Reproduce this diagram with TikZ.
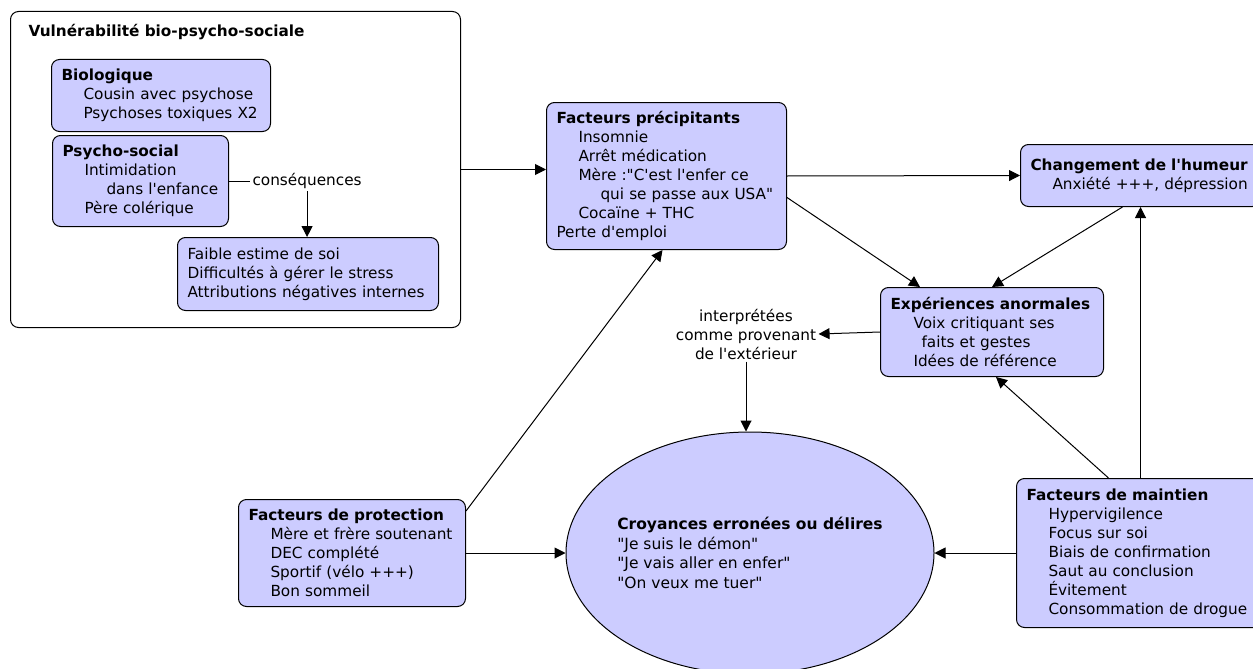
\documentclass[tikz,border=0pt]{standalone}
\usepackage{fontspec}
\newfontfamily\verd{DejaVu Sans}
\usetikzlibrary{arrows.meta,shapes.geometric}
\definecolor{lavande}{RGB}{204,204,255}
\newcommand{\retrait}{\hspace*{22pt}}

\begin{document}
\begin{tikzpicture}[x=1pt,y=-1pt,line width=1pt,>={Triangle[length=11pt,width=11pt]},
  bloc/.style={draw,fill=lavande,rounded corners=8pt,anchor=north west,align=left,
    inner xsep=10pt,inner ysep=0pt,font=\verd\fontsize{15.3}{19}\selectfont},
  etiq/.style={font=\verd\fontsize{15.3}{19}\selectfont,inner sep=2pt}]
\useasboundingbox (0,0) rectangle (1253,669);
% ---------- vulnerabilite ----------
\node[draw,fill=white,rounded corners=8pt,anchor=north west,minimum width=450pt,minimum height=316pt] (vuln) at (10,11) {};
\node[etiq,anchor=west,inner sep=0pt] (vulntitre) at (28,32) {\textbf{Vulnérabilité bio-psycho-sociale}};
\node[bloc,text width=199pt,minimum height=72pt] (bio) at (51,59)
  {\textbf{Biologique}\\ \retrait Cousin avec psychose\\ \retrait Psychoses toxiques X2};
\node[bloc,text width=156pt,minimum height=91pt] (psy) at (52,135)
  {\textbf{Psycho-social}\\ \retrait Intimidation\\ \retrait\retrait dans l'enfance\\ \retrait Père colérique};
\node[etiq,anchor=west] (conseq) at (250,181) {conséquences};
\node[bloc,text width=241pt,minimum height=73pt] (faible) at (177,237)
  {Faible estime de soi\\ Difficultés à gérer le stress\\ Attributions négatives internes};
\draw (psy.east) -- (conseq.west);
\draw[->] (conseq.south) -- (conseq.south |- faible.north);
% ---------- facteurs precipitants ----------
\node[bloc,text width=220pt,minimum height=147pt] (fp) at (546,102)
  {\textbf{Facteurs précipitants}\\ \retrait Insomnie\\ \retrait Arrêt médication\\
   \retrait Mère :"C'est l'enfer ce\\ \retrait\retrait qui se passe aux USA"\\
   \retrait Cocaïne + THC\\ Perte d'emploi};
\coordinate (fpin) at ([yshift=6.5pt]fp.west);
\draw[->] (fpin -| vuln.east) -- (fpin);
% ---------- humeur et experiences ----------
\node[bloc,text width=220pt,minimum height=62pt] (humeur) at (1020,144)
  {\textbf{Changement de l'humeur}\\ \retrait Anxiété +++, dépression};
\node[bloc,text width=203pt,minimum height=89pt] (exp) at (880,287)
  {\textbf{Expériences anormales}\\ \hspace*{23pt}Voix critiquant ses\\
   \hspace*{31pt}faits et gestes\\ \hspace*{23pt}Idées de référence};
\node[etiq,align=center] (interp) at (746,334) {interprétées\\ comme provenant\\ de l'extérieur};
\draw[->] (fp.east) -- (humeur.west);
\draw[->] ([yshift=-21.5pt]fp.east) -- ([xshift=-72pt]exp.north);
\draw[->] ([xshift=-18pt]humeur.south) -- (exp.north);
\draw[->] (exp.west) -- (interp.east);
% ---------- croyances ----------
\node[ellipse,draw,fill=lavande,inner sep=0pt,minimum width=368pt,minimum height=242pt] (croy) at (750,553) {};
\node[align=left,font=\verd\fontsize{15.5}{19.5}\selectfont] (croytexte) at (croy.center)
  {\textbf{Croyances erronées ou délires}\\ "Je suis le démon"\\ "Je vais aller en enfer"\\ "On veux me tuer"};
\draw[->] (interp.south) -- (interp.south |- croy.north);
% ---------- protection et maintien ----------
\node[bloc,text width=207pt,minimum height=107pt] (prot) at (238,499)
  {\textbf{Facteurs de protection}\\ \retrait Mère et frère soutenant\\ \retrait DEC complété\\
   \retrait Sportif (vélo +++)\\ \retrait Bon sommeil};
\node[bloc,text width=228pt,minimum height=149pt] (maint) at (1016,478)
  {\textbf{Facteurs de maintien}\\ \retrait Hypervigilence\\ \retrait Focus sur soi\\
   \retrait Biais de confirmation\\ \retrait Saut au conclusion\\ \retrait Évitement\\
   \retrait Consommation de drogue};
\draw[->] ([yshift=-12pt]prot.north east) -- ([xshift=-4pt]fp.south);
\draw[->] (prot.east) -- (croy.west);
\draw[->] (maint.west) -- (croy.east);
\draw[->] ([xshift=-32pt]maint.north) -- ([xshift=4pt]exp.south);
\draw[->] (maint.north) -- (humeur.south);
\end{tikzpicture}
\end{document}
